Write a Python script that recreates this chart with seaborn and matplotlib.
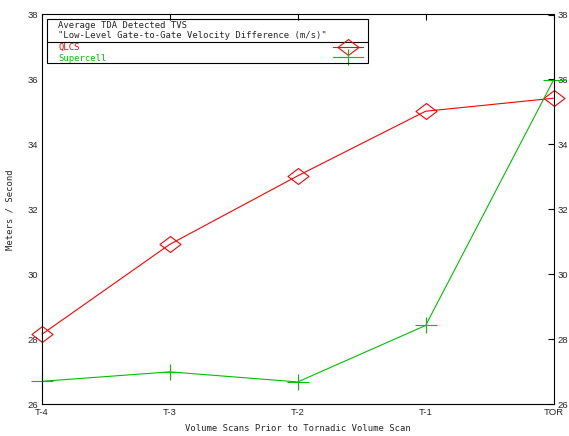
import numpy as np
import pandas as pd
import matplotlib
matplotlib.use("Agg")
import matplotlib.pyplot as plt
from matplotlib.path import Path
from matplotlib.lines import Line2D
from matplotlib.patches import Rectangle
import seaborn as sns

# values
scans = ["T-4", "T-3", "T-2", "T-1", "TOR"]
qlcs = [28.15, 30.92, 33.03, 35.02, 35.42]
supercell = [26.70, 26.99, 26.68, 28.42, 35.98]
y_ticks = [26, 28, 30, 32, 34, 36, 38]

red = "#ff0000"
green = "#00c000"
mono = "DejaVu Sans Mono"

sns.set_style("white")
plt.rcParams["font.family"] = ["Liberation Sans", "DejaVu Sans"]

# gnuplot-like open markers
diamond = Path([(-1, 0), (0, 0.76), (1, 0), (0, -0.76), (-1, 0)],
               [Path.MOVETO, Path.LINETO, Path.LINETO, Path.LINETO, Path.CLOSEPOLY])
plus = Path([(-1, 0), (1, 0), (0, -0.73), (0, 0.73)],
            [Path.MOVETO, Path.LINETO, Path.MOVETO, Path.LINETO])

fig = plt.figure(figsize=(5.69, 4.36), dpi=100)
ax = fig.add_axes([42 / 569, 32 / 436, 511.5 / 569, 389.5 / 436])

df_q = pd.DataFrame({"scan": scans, "value": qlcs})
df_s = pd.DataFrame({"scan": scans, "value": supercell})

sns.lineplot(data=df_q, x="scan", y="value", sort=False, ax=ax, color=red, lw=0.8,
             marker=diamond, markersize=15.1, mfc="none", mec=red, mew=0.8, clip_on=False)
sns.lineplot(data=df_s, x="scan", y="value", sort=False, ax=ax, color=green, lw=0.8,
             marker=plus, markersize=15.8, mfc="none", mec=green, mew=0.8, clip_on=False)

ax.set_xlim(0, len(scans) - 1)
ax.set_ylim(y_ticks[0], y_ticks[-1])
ax.set_yticks(y_ticks)
ax.tick_params(direction="in", length=4.5, width=0.8, labelsize=6.8, color="black",
               top=True, right=True, labelright=True, pad=3)
for s in ax.spines.values():
    s.set_color("black")
    s.set_linewidth(0.8)

ax.set_xlabel("Volume Scans Prior to Tornadic Volume Scan", family=mono, fontsize=6.4, labelpad=5)
ax.set_ylabel("Meters / Second", family=mono, fontsize=6.4, labelpad=9)

# gnuplot style key box
ax.add_patch(Rectangle((0.0098, 0.875), 0.627, 0.113, transform=ax.transAxes,
                       fill=False, ec="black", lw=0.8, zorder=5))
ax.add_line(Line2D([0.0098, 0.637], [0.929, 0.929], transform=ax.transAxes, color="black", lw=0.8))
ax.text(0.032, 0.971, "Average TDA Detected TVS", transform=ax.transAxes,
        family=mono, fontsize=6.4, va="center")
ax.text(0.032, 0.945, '"Low-Level Gate-to-Gate Velocity Difference (m/s)"', transform=ax.transAxes,
        family=mono, fontsize=6.4, va="center")
ax.text(0.032, 0.916, "QLCS", transform=ax.transAxes, family=mono, fontsize=6.4,
        va="center", color=red)
ax.text(0.032, 0.887, "Supercell", transform=ax.transAxes, family=mono, fontsize=6.4,
        va="center", color=green)
ax.add_line(Line2D([0.569, 0.628], [0.917, 0.917], transform=ax.transAxes, color=red, lw=0.8))
ax.add_line(Line2D([0.598], [0.917], transform=ax.transAxes, marker=diamond, ms=15.1,
                   mfc="none", mec=red, mew=0.8, ls="none"))
ax.add_line(Line2D([0.569, 0.628], [0.890, 0.890], transform=ax.transAxes, color=green, lw=0.8))
ax.add_line(Line2D([0.598], [0.890], transform=ax.transAxes, marker=plus, ms=15.8,
                   mfc="none", mec=green, mew=0.8, ls="none", clip_on=False))

fig.savefig("out.png", dpi=100)
